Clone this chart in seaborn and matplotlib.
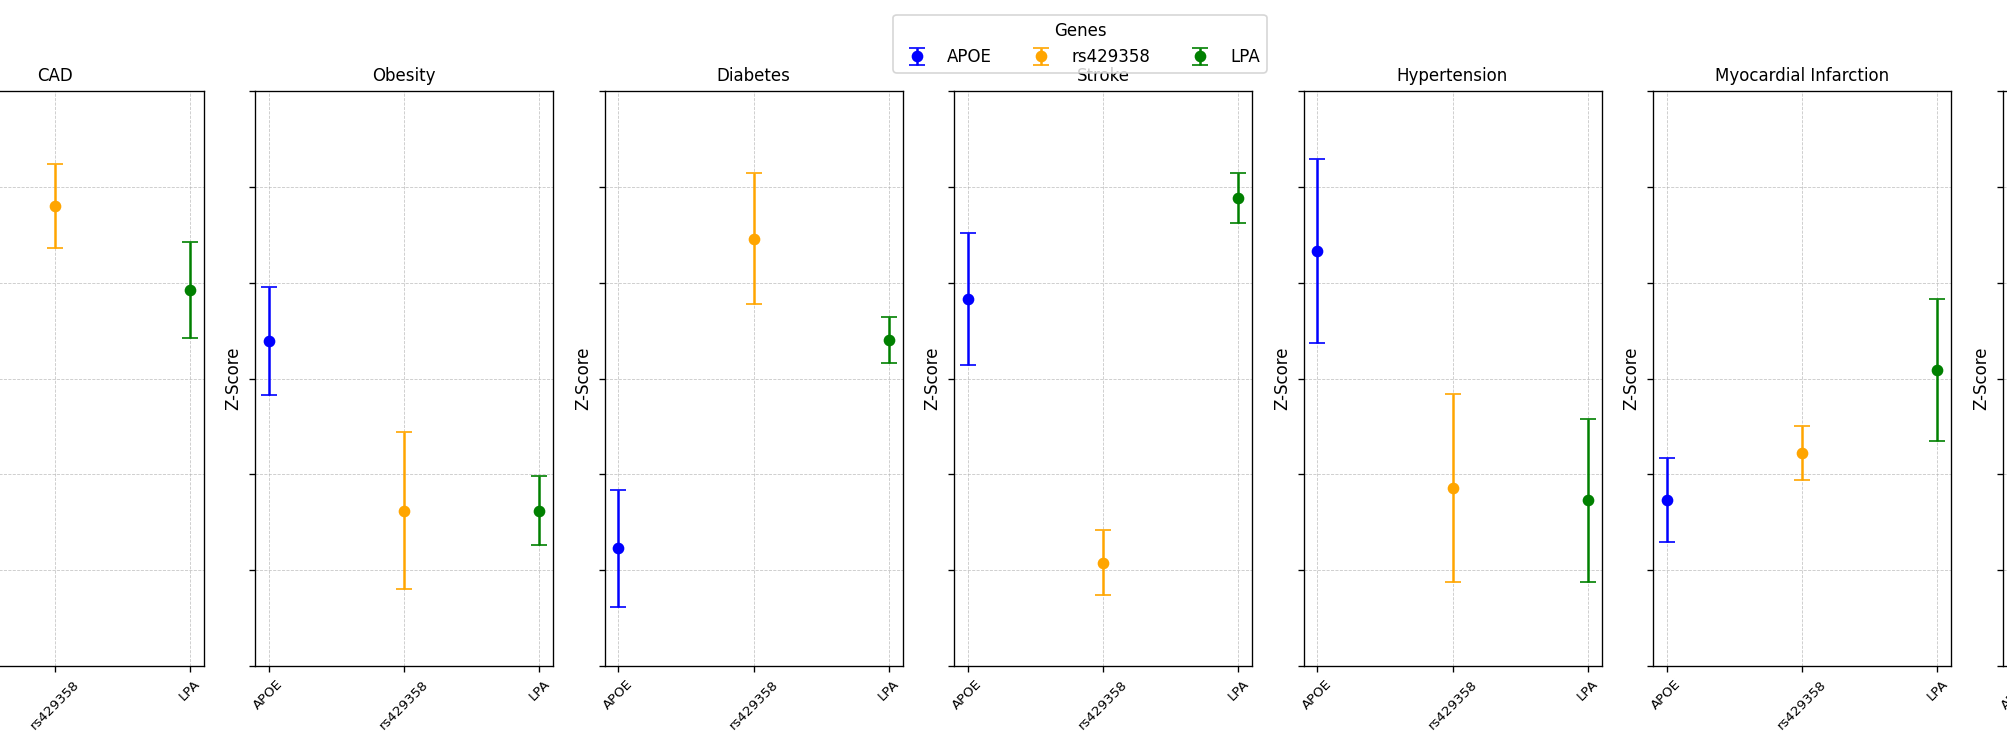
import numpy as np
import matplotlib
matplotlib.use("Agg")
import matplotlib.pyplot as plt
import seaborn as sns

sns.set_style("ticks", rc={"axes.edgecolor": "black", "text.color": "black",
                           "axes.labelcolor": "black", "xtick.color": "black",
                           "ytick.color": "black", "grid.color": "#b0b0b0"})
plt.rcParams['font.family'] = ['DejaVu Sans']

# Z-scores per disease (panel) and gene
diseases = ["CAD", "Obesity", "Diabetes", "Stroke", "Hypertension",
            "Myocardial Infarction", ""]
genes = ["APOE", "rs429358", "LPA"]
gene_colors = ["blue", "orange", "green"]

apoe_z = [np.nan, 0.39, -1.77, 0.83, 1.33, -1.27, -0.27]
apoe_err = [np.nan, 0.56, 0.61, 0.69, 0.96, 0.44, 0.55]
rs429358_z = [1.80, -1.38, 1.46, -1.92, -1.14, -0.78, np.nan]
rs429358_err = [0.44, 0.82, 0.68, 0.34, 0.98, 0.28, np.nan]
lpa_z = [0.92, -1.38, 0.40, 1.88, -1.27, 0.09, np.nan]
lpa_err = [0.50, 0.36, 0.24, 0.26, 0.85, 0.74, np.nan]

z_values = [apoe_z, rs429358_z, lpa_z]
z_errors = [apoe_err, rs429358_err, lpa_err]

W, H, DPI = 2007, 751, 120
fig = plt.figure(figsize=(W / DPI, H / DPI), dpi=DPI)

# panels of a wider figure; the outer two run past the edges
ax_w = 298 / W
ax_b = 1 - 666 / H
ax_h = (666 - 91) / H
first_left = -94.5
step = 349.5

handles = []
for i, disease in enumerate(diseases):
    ax = fig.add_axes([(first_left + i * step) / W, ax_b, ax_w, ax_h])
    for g, gene in enumerate(genes):
        z = z_values[g][i]
        e = z_errors[g][i]
        if np.isnan(z):
            continue
        cont = ax.errorbar(g, z, yerr=e, fmt="o", color=gene_colors[g],
                           capsize=5, markersize=6, label=gene)
        if i == 1:
            handles.append(cont)
    ax.set_xlim(-0.1, 2.1)
    ax.set_ylim(-3, 3)
    ax.set_yticks(np.arange(-3, 4, 1))
    ax.tick_params(axis="y", labelleft=False)
    ax.set_xticks(range(len(genes)))
    ax.set_xticklabels(genes, rotation=45, fontsize=8)
    ax.set_title(disease, fontsize=10)
    ax.set_ylabel("Z-Score", fontsize=10)
    ax.grid(True, linestyle="--", linewidth=0.5, alpha=0.7)

fig.legend(handles, genes, loc="upper center", ncol=3, title="Genes",
           bbox_to_anchor=(1080 / W, 1 - 15 / H), borderaxespad=0,
           frameon=True, fontsize=10)

fig.savefig("out.png", dpi=DPI)
